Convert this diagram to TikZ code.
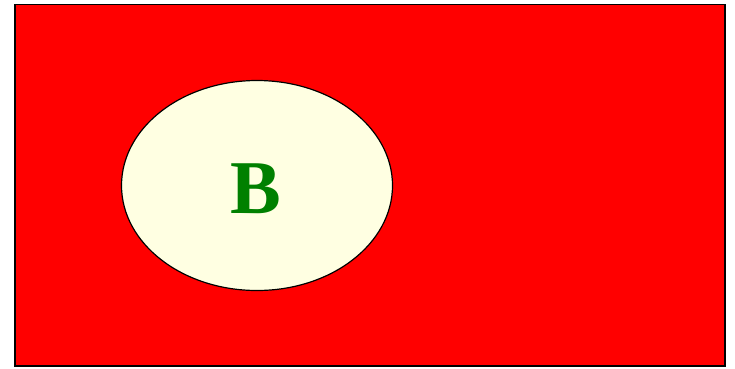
\documentclass[tikz,border=0pt]{standalone}
\usepackage{fontspec}
\setmainfont{Liberation Serif}
\usepackage{xcolor}
\definecolor{setred}{RGB}{255,0,0}
\definecolor{setyellow}{RGB}{255,255,226}
\definecolor{setgreen}{RGB}{0,128,0}
\usetikzlibrary{shapes.geometric}

\begin{document}
\begin{tikzpicture}[x=1pt, y=-1pt,
  universe/.style={draw=black, fill=setred, line width=1.5pt},
  setB/.style={ellipse, draw=black, fill=setyellow, line width=1.2pt,
    minimum width=271pt, minimum height=210pt, inner sep=0pt},
  setlabel/.style={text=setgreen, font=\fontsize{76}{76}\selectfont\bfseries}]
\useasboundingbox (0,0) rectangle (735,368);

% --- Universe ---
\draw[universe] (15,4.5) rectangle (725,366);

% --- Set B ---
\node[setB] (B) at (257,185.5) {};
\node[setlabel, anchor=base] (Blabel) at (256,213.3) {B};

\end{tikzpicture}
\end{document}
